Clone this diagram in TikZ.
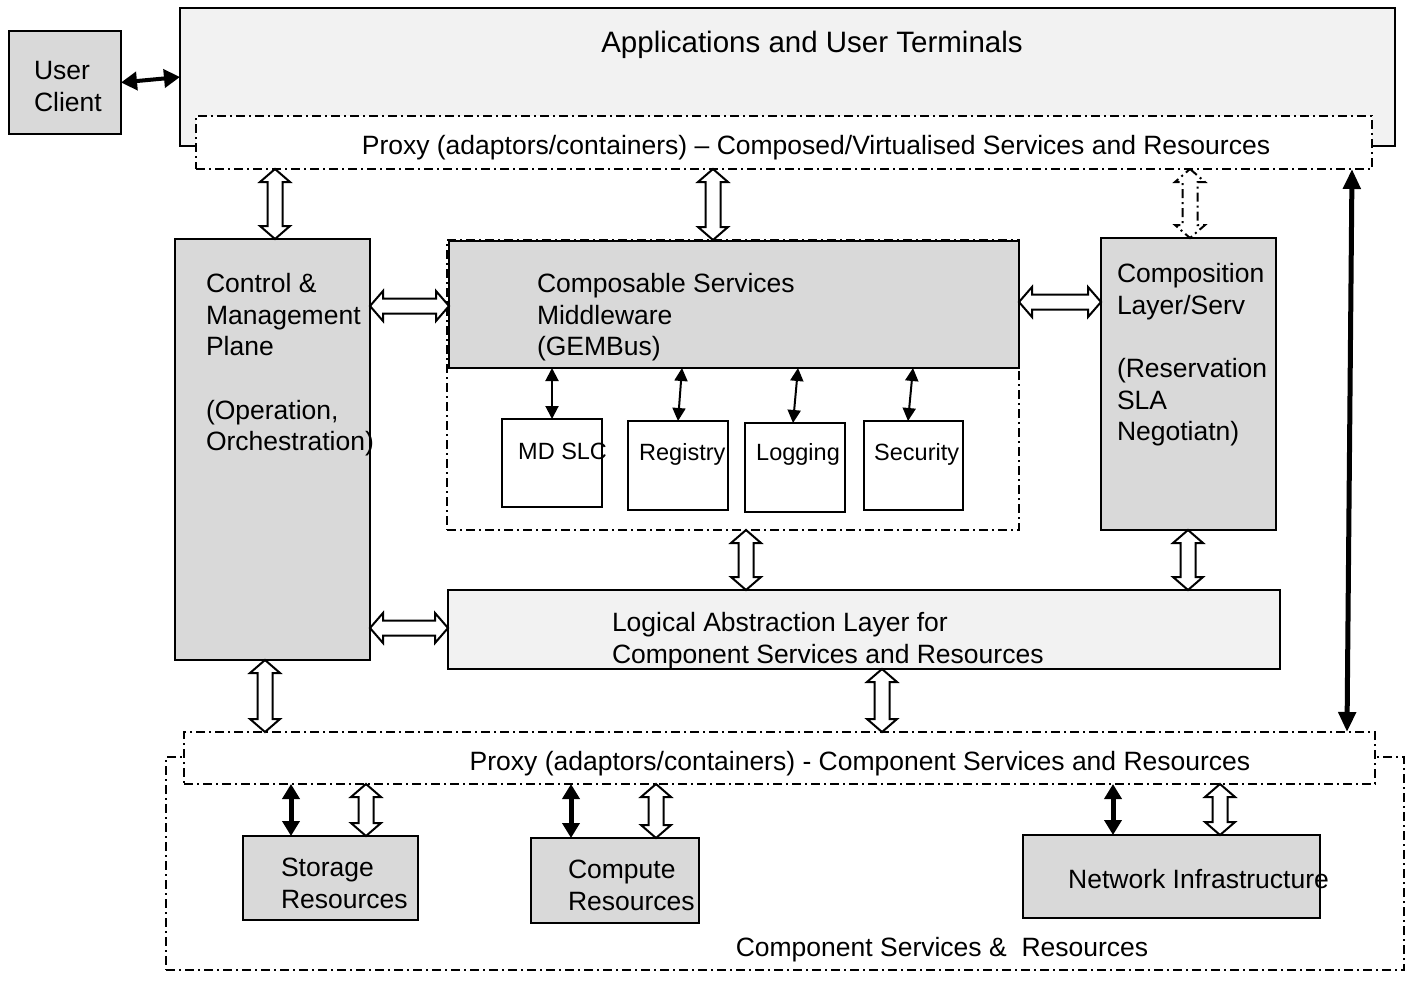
\documentclass[tikz,border=0pt]{standalone}
\usepackage{fontspec}
\setmainfont{Liberation Sans}
\usetikzlibrary{arrows.meta,calc}

\definecolor{boxgray}{RGB}{217,217,217}
\definecolor{paleGray}{RGB}{242,242,242}

\newcommand\fmain{\fontsize{26.5}{31.6}\selectfont}
\newcommand\ftitle{\fontsize{29.5}{34}\selectfont}
\newcommand\fsmall{\fontsize{23.5}{28}\selectfont}

% hollow double arrows: head half width, shaft half width, head length
\def\hw{15pt}
\def\sw{7.5pt}
\def\hl{13pt}

% vertical hollow double arrow at x=#2 between the y levels of #3 (top) and #4 (bottom)
\newcommand\hollowV[4][]{%
  \draw[hollow,#1] let \p1=(#3), \p2=(#4) in
    (#2pt,\y1) -- (#2pt+\hw,\y1-\hl) -- (#2pt+\sw,\y1-\hl) -- (#2pt+\sw,\y2+\hl)
    -- (#2pt+\hw,\y2+\hl) -- (#2pt,\y2) -- (#2pt-\hw,\y2+\hl) -- (#2pt-\sw,\y2+\hl)
    -- (#2pt-\sw,\y1-\hl) -- (#2pt-\hw,\y1-\hl) -- cycle;}

% horizontal hollow double arrow at y=#2 between the x levels of #3 (left) and #4 (right)
\newcommand\hollowH[4][]{%
  \draw[hollow,#1] let \p1=(#3), \p2=(#4) in
    (\x1,-#2pt) -- (\x1+\hl,-#2pt+\hw) -- (\x1+\hl,-#2pt+\sw) -- (\x2-\hl,-#2pt+\sw)
    -- (\x2-\hl,-#2pt+\hw) -- (\x2,-#2pt) -- (\x2-\hl,-#2pt-\hw) -- (\x2-\hl,-#2pt-\sw)
    -- (\x1+\hl,-#2pt-\sw) -- (\x1+\hl,-#2pt-\hw) -- cycle;}

\tikzset{
  box/.style={draw, line width=2pt, inner sep=0pt, outer sep=0pt},
  graybox/.style={box, fill=boxgray},
  palebox/.style={box, fill=paleGray},
  whitebox/.style={box, fill=white},
  dashdot/.style={line width=2pt, dash pattern=on 9pt off 4pt on 2pt off 4pt},
  dashbox/.style={dashdot, draw, inner sep=0pt, outer sep=0pt},
  hollow/.style={draw, fill=white, line width=2pt, line join=miter},
  txt/.style={inner sep=0pt, outer sep=0pt, align=left, anchor=north west, font=\fmain},
  thinarrow/.style={line width=2pt, {Triangle[width=13pt,length=13pt]}-{Triangle[width=13pt,length=13pt]}},
  thickarrow/.style={line width=5pt, {Triangle[width=17pt,length=15pt]}-{Triangle[width=17pt,length=15pt]}},
}

\begin{document}
\begin{tikzpicture}[x=1pt, y=-1pt]
\fill[white] (0,0) rectangle (1408,980);
\useasboundingbox (0,0) rectangle (1408,980);

% ---- top: user client, applications, upper proxy
\node[graybox, minimum width=112, minimum height=103] (user) at (65,82.5) {};
\node[txt] (userT) at (34,61.4) {User\\Client};

\node[palebox, minimum width=1215, minimum height=138] (app) at (787.5,77) {};
\node[font=\ftitle, inner sep=0pt, anchor=base] (appT) at (812,52) {Applications and User Terminals};

\node[dashbox, fill=white, minimum width=1176, minimum height=53] (proxyT) at (784,142.5) {};
\node[font=\fmain, inner sep=0pt, anchor=base] (proxyTT) at (816,154)
  {Proxy (adaptors/containers) -- Composed/Virtualised Services and Resources};

% ---- middle: control plane, middleware, composition layer
\node[graybox, minimum width=195, minimum height=421] (ctrl) at (272.5,449.5) {};
\node[txt] (ctrlT) at (206,273.4)
  {Control \&\\Management\\Plane\\[31.6pt](Operation,\\Orchestration)};

\node[dashbox, minimum width=572, minimum height=290] (mwc) at (733,385) {};
\node[graybox, minimum width=570, minimum height=127] (mw) at (734,304.5) {};
\node[txt] (mwT) at (537,273.4) {Composable Services\\Middleware\\(GEMBus)};

\node[whitebox, minimum width=100, minimum height=88] (md) at (552,463) {};
\node[whitebox, minimum width=100, minimum height=89] (reg) at (678,465.5) {};
\node[whitebox, minimum width=100, minimum height=89] (logg) at (795,467.5) {};
\node[whitebox, minimum width=99, minimum height=89] (sec) at (913.5,465.5) {};
\node[font=\fsmall, inner sep=0pt, anchor=base west] (mdT) at (518,459) {MD SLC};
\node[font=\fsmall, inner sep=0pt, anchor=base west] (regT) at (639,460) {Registry};
\node[font=\fsmall, inner sep=0pt, anchor=base west] (loggT) at (756,460) {Logging};
\node[font=\fsmall, inner sep=0pt, anchor=base west] (secT) at (874,460) {Security};

\draw[thinarrow] (md.north |- mw.south) -- (md.north);
\draw[thinarrow] ($(reg.north |- mw.south)+(4,0)$) -- (reg.north);
\draw[thinarrow] ($(logg.north |- mw.south)+(3,0)$) -- ($(logg.north)+(-2,0)$);
\draw[thinarrow] ($(sec.north |- mw.south)+(-0.5,0)$) -- ($(sec.north)+(-5.5,0)$);

\node[graybox, minimum width=175, minimum height=292] (comp) at (1188.5,384) {};
\node[txt] (compT) at (1117,263.4)
  {Composition\\Layer/Serv\\[31.6pt](Reservation\\SLA\\Negotiatn)};

\node[palebox, minimum width=832, minimum height=79] (logic) at (864,629.5) {};
\node[txt] (logicT) at (612,612.4) {Logical Abstraction Layer for\\Component Services and Resources};

% ---- bottom: component services and resources
\node[dashbox, minimum width=1238, minimum height=213] (outer) at (785,863.5) {};
\node[dashbox, fill=white, minimum width=1191, minimum height=52] (proxyB) at (779.5,758) {};
\node[font=\fmain, inner sep=0pt, anchor=base] (proxyBT) at (860,770)
  {Proxy (adaptors/containers) - Component Services and Resources};
\node[font=\fmain, inner sep=0pt, anchor=base] (outerT) at (942,956)
  {Component Services \&~~Resources};

\node[graybox, minimum width=175, minimum height=84] (stor) at (330.5,878) {};
\node[txt] (storT) at (281,858.4) {Storage\\Resources};
\node[graybox, minimum width=168, minimum height=85] (cmp) at (615,880.5) {};
\node[txt] (cmpT) at (568,860.4) {Compute\\Resources};
\node[graybox, minimum width=297, minimum height=83] (net) at (1171.5,876.5) {};
\node[font=\fmain, inner sep=0pt, anchor=base west] (netT) at (1068,888) {Network Infrastructure};

% ---- solid connectors
\draw[line width=4pt, {Triangle[width=18pt,length=16pt]}-{Triangle[width=18pt,length=16pt]}]
  (user.east) -- (app.west);
\draw[line width=5pt, {Triangle[width=17pt,length=20pt]}-{Triangle[width=17pt,length=20pt]}]
  ($(proxyT.south east)+(-20,0)$) -- ($(proxyB.north east)+(-28,0)$);
\draw[thickarrow] ($(stor.north |- proxyB.south)+(-39.5,0)$) -- ($(stor.north)+(-39.5,0)$);
\draw[thickarrow] ($(cmp.north |- proxyB.south)+(-44,0)$) -- ($(cmp.north)+(-44,0)$);
\draw[thickarrow] ($(net.north |- proxyB.south)+(-58.5,0)$) -- ($(net.north)+(-58.5,0)$);

% ---- hollow connectors
\hollowV{275}{proxyT.south}{ctrl.north}
\hollowV{713}{proxyT.south}{mwc.north}
\hollowV[dashdot]{1190}{proxyT.south}{comp.north}
\hollowH{306}{ctrl.east}{mw.west}
\hollowH{302}{mw.east}{comp.west}
\hollowV{746}{mwc.south}{logic.north}
\hollowV{1188}{comp.south}{logic.north}
\hollowH{628}{ctrl.east}{logic.west}
\hollowV{265}{ctrl.south}{proxyB.north}
\hollowV{882}{logic.south}{proxyB.north}
\hollowV{366}{proxyB.south}{stor.north}
\hollowV{656}{proxyB.south}{cmp.north}
\hollowV{1220}{proxyB.south}{net.north}
\end{tikzpicture}
\end{document}
